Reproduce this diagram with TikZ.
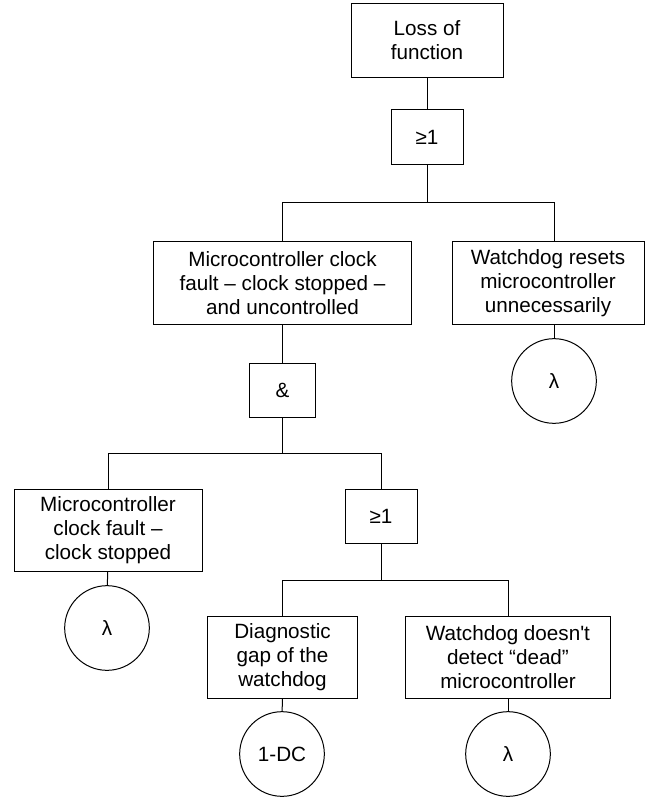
\documentclass[tikz,border=0pt]{standalone}
\usepackage{fontspec}
\setmainfont{Liberation Sans}
\usepackage{tikz}

\begin{document}
\begin{tikzpicture}[x=0.75pt,y=-0.75pt,line width=0.75pt,
    every node/.style={font=\fontsize{15.5}{18}\selectfont},
    event/.style={draw,align=center,inner sep=0pt,minimum height=61.5pt},
    gate/.style={draw,inner sep=0pt,minimum height=41pt},
    basic/.style={draw,circle,inner sep=0pt,minimum size=63.5pt}]
  \useasboundingbox (0,0) rectangle (645,798);

  % top event and first OR gate
  \node[event,minimum width=114pt,minimum height=55pt] (top) at (427,40.5) {Loss of\\function};
  \node[gate,minimum width=54pt] (or1) at (427,137) {≥1};

  % second level
  \node[event,minimum width=194pt] (uncontrolled) at (282.5,283) {Microcontroller clock\\fault – clock stopped –\\and uncontrolled};
  \node[event,minimum width=144pt] (resets) at (548,283) {Watchdog resets\\microcontroller\\unnecessarily};
  \node[basic] (lamResets) at (554,381) {λ};
  \node[gate,minimum width=50pt] (and1) at (282.5,390.5) {\&};

  % third level
  \node[event,minimum width=141pt] (stopped) at (108,530.5) {Microcontroller\\clock fault –\\clock stopped};
  \node[basic] (lamStopped) at (107,628) {λ};
  \node[gate,minimum width=54pt] (or2) at (381,516.5) {≥1};

  % watchdog branch
  \node[event,minimum width=113pt] (gap) at (282.5,657) {Diagnostic\\gap of the\\watchdog};
  \node[event,minimum width=154pt] (dead) at (508,657) {Watchdog doesn\textquotesingle t\\detect “dead”\\microcontroller};
  \node[basic] (dc) at (282,754) {1-DC};
  \node[basic] (lamDead) at (508,754) {λ};

  % bus lines
  \coordinate (bus1) at (427,203);
  \coordinate (bus2) at (282.5,453);
  \coordinate (bus3) at (381,580);

  \draw (top) -- (or1);
  \draw (or1) -- (bus1);
  \draw (uncontrolled.north) -- (uncontrolled.north |- bus1) -- (lamResets.north |- bus1) -- (lamResets.north |- resets.north);
  \draw (resets.south -| lamResets.north) -- (lamResets);

  \draw (uncontrolled) -- (and1);
  \draw (and1) -- (bus2);
  \draw (stopped.north) -- (stopped.north |- bus2) -- (or2.north |- bus2) -- (or2);
  \draw (stopped) -- (lamStopped);

  \draw (or2) -- (bus3);
  \draw (gap.north) -- (gap.north |- bus3) -- (dead.north |- bus3) -- (dead);
  \draw (gap) -- (dc);
  \draw (dead) -- (lamDead);
\end{tikzpicture}
\end{document}
